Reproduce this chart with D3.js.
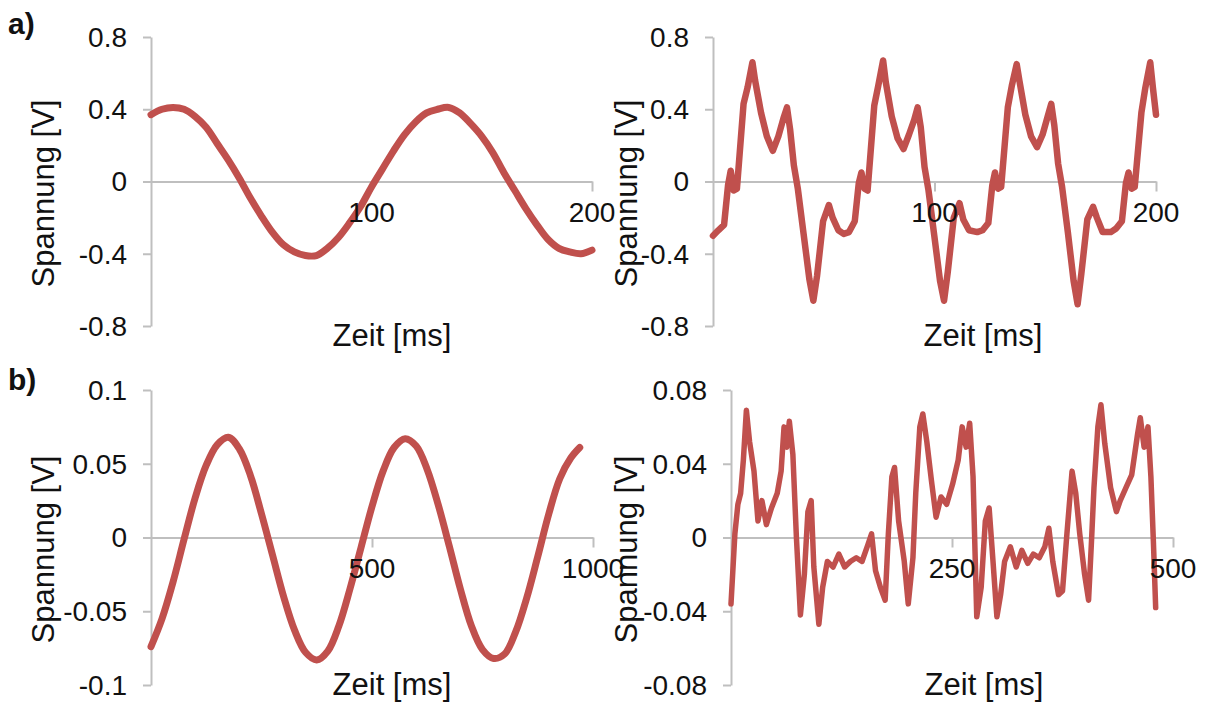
<!DOCTYPE html>
<html>
<head>
<meta charset="utf-8">
<script src="https://cdn.jsdelivr.net/npm/d3@7"></script>
<style>
  body { margin: 0; background: #fff; }
  text { font-family: "Liberation Sans", Arial, sans-serif; fill: #111; }
</style>
</head>
<body>
<div class="container"></div>
<script>
var width = 1205, height = 703;
var line_color = "#c0504d";
var axis_color = "#bfbfbf";

// a) left: sine, 0..200 ms
var a_left_t = [0,5,10,15,20,25,30,35,40,45,50,55,60,65,70,75,80,85,90,95,100,
  105,110,115,120,125,130,135,140,145,150,155,160,165,170,175,180,185,190,195,200];
var a_left_v = [0.37,0.40,0.41,0.40,0.36,0.30,0.21,0.12,0.02,-0.09,-0.19,-0.28,-0.35,-0.39,-0.41,-0.41,
  -0.37,-0.31,-0.23,-0.14,-0.03,0.07,0.17,0.26,0.33,0.38,0.40,0.41,0.38,0.32,0.25,0.16,0.05,-0.05,
  -0.15,-0.24,-0.32,-0.37,-0.39,-0.40,-0.38];

// a) right: distorted wave, 0..200 ms
var a_right_t = [0,2.4,5,6.8,8,9.4,10.8,13.8,15.6,17.8,19,21.7,24.3,27,29.5,31.8,33.4,34.8,36.5,38.3,40.9,43.5,45.3,47,49.7,52.3,54,56.6,
  59,61.4,64,65.8,67,68.4,69.8,72.8,74.6,76.8,78,80.7,83.3,86,88.5,90.8,92.4,93.8,95.5,97.3,99.9,102.5,104.3,106,108.7,111.3,113,115.6,
  119.3,121.7,124.3,126.1,127.3,128.7,130.1,133.1,134.9,137.1,138.3,141,143.6,146.3,148.8,151.1,152.7,154.1,155.8,157.6,160.2,162.8,164.6,166.3,169,171.6,173.3,175.9,
  179.6,182,184.6,186.4,187.6,189,190.4,193.4,195.2,197.4,198.6,200];
var a_right_v = [-0.30,-0.27,-0.24,-0.02,0.06,-0.05,-0.04,0.43,0.52,0.66,0.56,0.38,0.25,0.17,0.25,0.35,0.41,0.29,0.09,-0.04,-0.29,-0.54,-0.66,-0.52,-0.22,-0.13,-0.20,-0.27,
  -0.29,-0.28,-0.22,-0.01,0.05,-0.04,-0.05,0.42,0.53,0.67,0.55,0.36,0.24,0.18,0.26,0.34,0.41,0.30,0.08,-0.05,-0.30,-0.55,-0.66,-0.50,-0.20,-0.12,-0.21,-0.27,
  -0.28,-0.27,-0.23,-0.02,0.05,-0.04,-0.03,0.41,0.53,0.65,0.56,0.37,0.25,0.19,0.26,0.36,0.43,0.31,0.10,-0.03,-0.28,-0.55,-0.68,-0.51,-0.21,-0.14,-0.20,-0.28,
  -0.28,-0.26,-0.22,-0.01,0.05,-0.04,-0.03,0.38,0.52,0.66,0.52,0.37];

// b) left: sine, 0..1000 ms
var b_left_t = [0,25,50,75,100,125,150,175,200,225,250,275,300,325,350,375,400,425,450,475,
  500,525,550,575,600,625,650,675,700,725,750,775,800,825,850,875,900,925,950,970];
var b_left_v = [-0.074,-0.055,-0.030,-0.001,0.027,0.049,0.063,0.068,0.060,0.042,0.016,-0.012,-0.040,-0.063,-0.078,-0.083,
  -0.077,-0.060,-0.035,-0.007,0.021,0.045,0.061,0.067,0.062,0.046,0.022,-0.006,-0.035,-0.060,-0.076,-0.082,-0.079,
  -0.064,-0.041,-0.013,0.016,0.040,0.054,0.061];

// b) right: distorted wave, 0..500 ms
var b_right_t = [0,4.4,7.8,10.9,14,17.4,21,26,30.5,35,40,45.8,52.3,56.7,60,63,66,70,74,78.5,83,87,90.7,93.7,99.4,103.7,109,115.5,
  122,128.6,135,141.7,148.2,154.8,159,163.5,169,174.4,178,182,185,189.6,196,200.5,205.8,209,213.6,217,221.5,226.7,232,237.6,244,
  250.7,257,261.5,266,270,273.8,278,283,287.7,292,296.4,300.8,305,309.5,316,322.6,329,335.7,342,348.7,355,359.6,364,370.5,375,380,
  385.8,390,394.5,400,404.5,407.6,410.6,415,418.5,422.8,429.4,436,440.3,446.8,453.3,459.9,463,467.3,471.7,475,477.8,480.4];
var b_right_v = [-0.036,0.002,0.018,0.024,0.042,0.069,0.052,0.036,0.009,0.020,0.007,0.016,0.024,0.036,0.060,0.049,0.063,0.045,0.000,-0.042,-0.020,0.014,0.020,-0.016,-0.047,-0.027,-0.013,-0.016,
  -0.009,-0.016,-0.013,-0.011,-0.013,-0.004,0.002,-0.018,-0.027,-0.034,0.002,0.033,0.038,0.009,-0.013,-0.036,-0.011,0.024,0.060,0.067,0.052,0.031,0.011,0.022,0.018,
  0.029,0.042,0.060,0.049,0.062,0.033,-0.043,-0.027,0.009,0.016,-0.013,-0.043,-0.031,-0.013,-0.005,-0.016,-0.007,-0.014,-0.009,-0.011,-0.005,0.005,-0.013,-0.031,-0.029,0.002,
  0.036,0.024,0.002,-0.020,-0.034,-0.004,0.027,0.060,0.072,0.051,0.027,0.014,0.020,0.027,0.034,0.056,0.065,0.049,0.060,0.033,-0.002,-0.038];

// tick values / labels
var a_y_ticks = [-0.8, -0.4, 0, 0.4, 0.8];
var a_x_ticks = [100, 200];
var b_left_y_ticks = [-0.1, -0.05, 0, 0.05, 0.1];
var b_left_x_ticks = [500, 1000];
var b_right_y_ticks = [-0.08, -0.04, 0, 0.04, 0.08];
var b_right_x_ticks = [250, 500];

var x_title = "Zeit [ms]";
var y_title = "Spannung [V]";

var svg = d3.select("div.container").append("svg")
    .attr("width", width)
    .attr("height", height);

var panels = [
  {t: a_left_t, v: a_left_v, xd: [0, 200], yd: [-0.8, 0.8], xt: a_x_ticks, yt: a_y_ticks,
   x0: 151, x1: 592, y0: 326, y1: 37, xtx: 392, xty: 346, ytx: 54, sw: 7, smooth: true},
  {t: a_right_t, v: a_right_v, xd: [0, 200], yd: [-0.8, 0.8], xt: a_x_ticks, yt: a_y_ticks,
   x0: 713, x1: 1156, y0: 326, y1: 37, xtx: 983, xty: 346, ytx: 637, sw: 6.5, smooth: false},
  {t: b_left_t, v: b_left_v, xd: [0, 1000], yd: [-0.1, 0.1], xt: b_left_x_ticks, yt: b_left_y_ticks,
   x0: 151, x1: 593, y0: 685, y1: 390, xtx: 392, xty: 695, ytx: 54, sw: 7, smooth: true},
  {t: b_right_t, v: b_right_v, xd: [0, 500], yd: [-0.08, 0.08], xt: b_right_x_ticks, yt: b_right_y_ticks,
   x0: 731, x1: 1173, y0: 685, y1: 390, xtx: 984, xty: 695, ytx: 637, sw: 5.5, smooth: false}
];

var fmt = function (d) { return d === 0 ? "0" : String(d); };

var draw_panel = function (p) {
  var x = d3.scaleLinear().domain(p.xd).range([p.x0, p.x1]);
  var y = d3.scaleLinear().domain(p.yd).range([p.y0, p.y1]);
  var g = svg.append("g");

  // axes lines and ticks first, labels later (on top of the trace)
  g.append("g")
      .attr("transform", "translate(" + p.x0 + ",0)")
      .call(d3.axisLeft(y).tickValues(p.yt).tickSize(8).tickSizeOuter(0).tickFormat(""));
  g.append("g")
      .attr("transform", "translate(0," + y(0) + ")")
      .call(d3.axisBottom(x).tickValues(p.xt).tickSize(10).tickSizeOuter(0).tickFormat(""));
  g.selectAll(".domain, .tick line")
      .attr("stroke", axis_color)
      .attr("stroke-width", 2);

  var pts = d3.zip(p.t, p.v);
  var line = d3.line()
      .curve(p.smooth ? d3.curveCatmullRom : d3.curveLinear)
      .x(function (d) { return x(d[0]); })
      .y(function (d) { return y(d[1]); });

  g.append("path")
      .datum(pts)
      .attr("fill", "none")
      .attr("stroke", line_color)
      .attr("stroke-width", p.sw)
      .attr("stroke-linejoin", "round")
      .attr("stroke-linecap", "round")
      .attr("d", line);

  g.append("g").selectAll("text")
      .data(p.yt).join("text")
      .attr("x", p.x0 - 24)
      .attr("y", function (d) { return y(d); })
      .attr("dy", "0.35em")
      .attr("text-anchor", "end")
      .style("font-size", "28px")
      .text(fmt);

  g.append("g").selectAll("text")
      .data(p.xt).join("text")
      .attr("x", function (d) { return x(d); })
      .attr("y", y(0) + 40)
      .attr("text-anchor", "middle")
      .style("font-size", "28px")
      .text(fmt);

  g.append("text")
      .attr("x", p.xtx)
      .attr("y", p.xty)
      .attr("text-anchor", "middle")
      .style("font-size", "31px")
      .text(x_title);

  g.append("text")
      .attr("transform", "translate(" + p.ytx + "," + ((p.y0 + p.y1) / 2 + 12) + ") rotate(-90)")
      .attr("text-anchor", "middle")
      .style("font-size", "31px")
      .text(y_title);
};

panels.forEach(draw_panel);

svg.append("text").attr("x", 8).attr("y", 34)
    .style("font-size", "30px").style("font-weight", "bold").text("a)");
svg.append("text").attr("x", 8).attr("y", 390)
    .style("font-size", "30px").style("font-weight", "bold").text("b)");
</script>
</body>
</html>
